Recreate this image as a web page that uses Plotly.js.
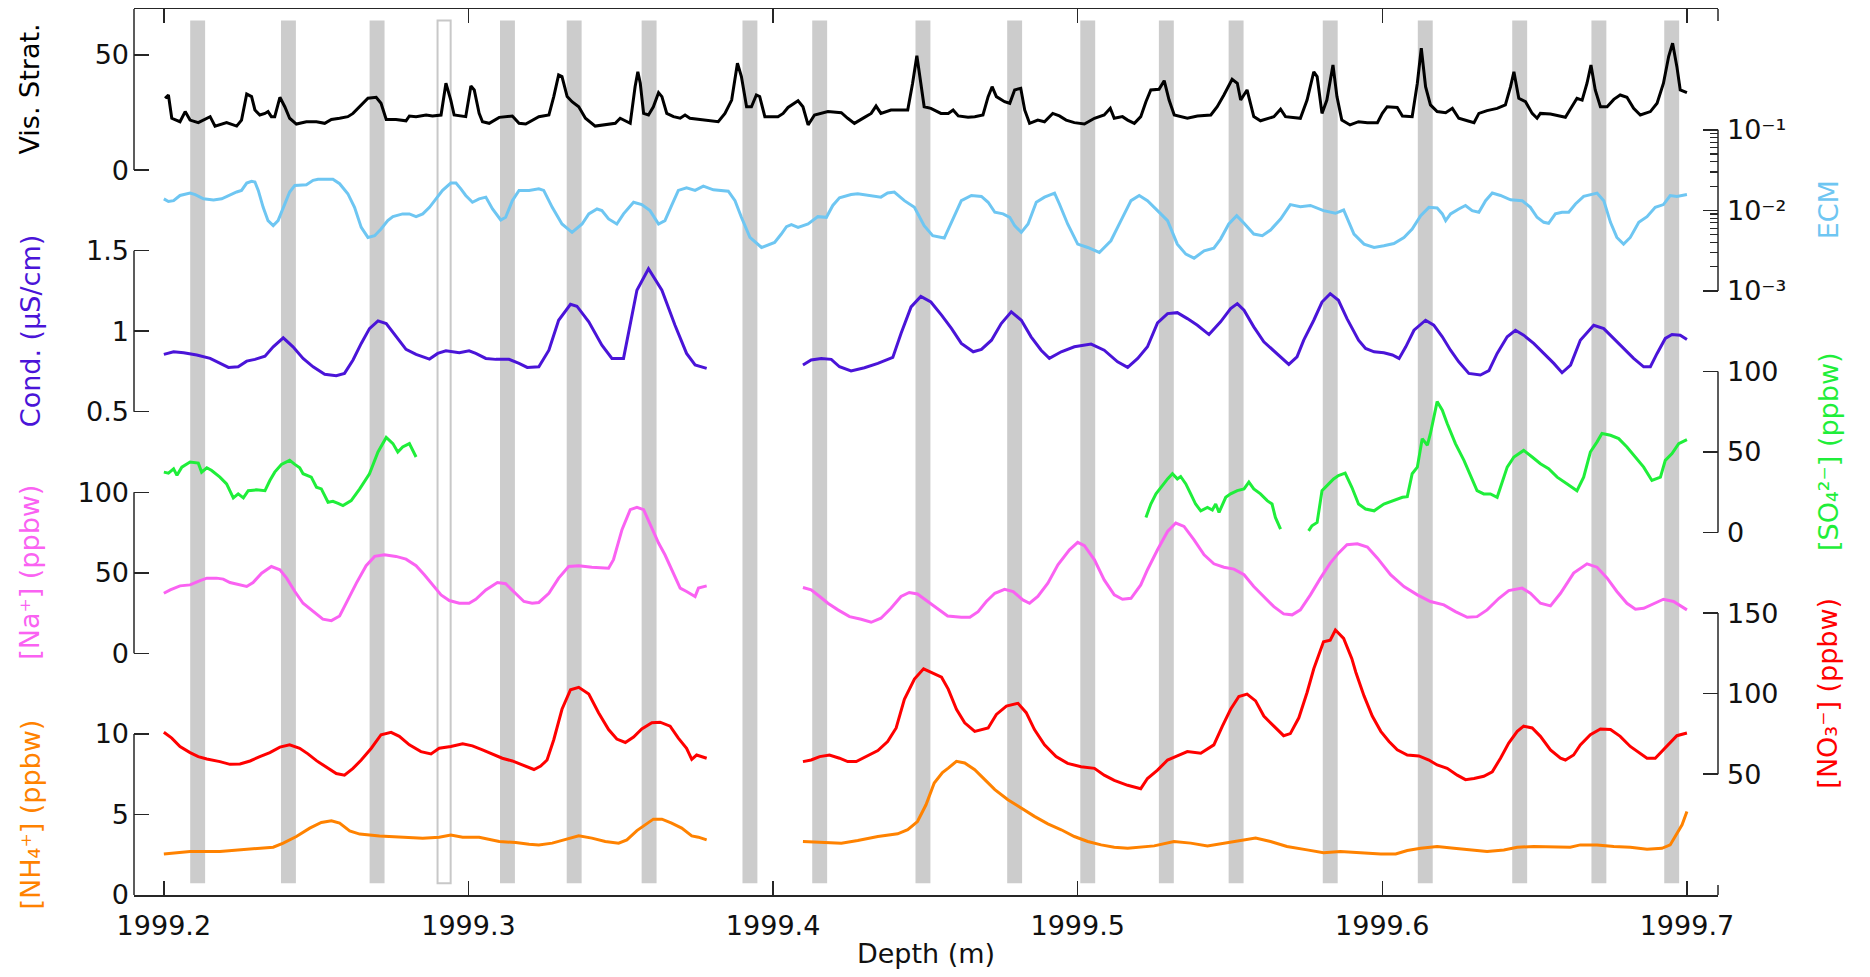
<!DOCTYPE html>
<html>
<head>
<meta charset="utf-8">
<script src="https://cdn.plot.ly/plotly-3.0.1.min.js"></script>
<style>
html,body{margin:0;padding:0;background:#fff;}
#chart{width:1870px;height:977px;}
</style>
</head>
<body>
<div id="chart"></div>
<script>
// ---------------- DATA (depth in m, value in axis units) ----------------
const depthTicks = [1999.2, 1999.3, 1999.4, 1999.5, 1999.6, 1999.7];

// annual-layer markers (band centres) and the single open (uncertain) band
const bandCenters = [1999.2111,1999.2409,1999.2700,1999.3128,1999.3347,1999.3593,1999.3924,1999.4153,1999.4492,1999.4793,1999.5033,1999.5291,1999.5520,1999.5829,1999.6141,1999.6451,1999.6711,1999.6950];
const openBandCenters = [1999.2920];

const visStrat = [[1999.2004,31.2],[1999.2015,32.6],[1999.2026,22.5],[1999.2053,21.0],[1999.2070,25.4],[1999.2086,21.7],[1999.2113,20.6],[1999.2152,23.2],[1999.2168,19.1],[1999.2206,20.6],[1999.2239,19.1],[1999.2255,21.7],[1999.2272,33.0],[1999.2288,31.9],[1999.2299,26.1],[1999.2315,23.9],[1999.2332,24.6],[1999.2342,25.4],[1999.2353,23.2],[1999.2364,23.2],[1999.2381,31.6],[1999.2397,27.5],[1999.2413,22.5],[1999.2435,20.0],[1999.2468,21.0],[1999.2501,21.0],[1999.2528,20.3],[1999.2550,22.0],[1999.2577,22.5],[1999.2604,23.2],[1999.2621,24.6],[1999.2642,27.5],[1999.2670,31.2],[1999.2697,31.6],[1999.2713,29.0],[1999.2730,22.0],[1999.2762,22.0],[1999.2795,21.4],[1999.2806,23.5],[1999.2828,23.2],[1999.2861,23.9],[1999.2882,23.5],[1999.2910,23.9],[1999.2926,37.7],[1999.2942,30.4],[1999.2953,23.9],[1999.2981,23.2],[1999.2991,23.2],[1999.3008,36.5],[1999.3019,34.8],[1999.3035,24.6],[1999.3046,21.0],[1999.3068,20.3],[1999.3101,22.9],[1999.3144,23.5],[1999.3166,20.3],[1999.3188,20.0],[1999.3231,23.2],
[1999.3264,23.9],[1999.3280,31.9],[1999.3296,41.3],[1999.3307,40.6],[1999.3324,31.9],[1999.3340,29.7],[1999.3362,27.5],[1999.3384,22.5],[1999.3416,19.1],[1999.3449,19.6],[1999.3482,20.3],[1999.3498,22.5],[1999.3509,21.7],[1999.3531,20.3],[1999.3547,36.2],[1999.3556,42.7],[1999.3564,37.7],[1999.3575,24.6],[1999.3591,23.9],[1999.3607,27.5],[1999.3624,33.6],[1999.3635,31.9],[1999.3651,24.6],[1999.3673,23.2],[1999.3695,22.5],[1999.3711,23.9],[1999.3727,22.5],[1999.3776,21.7],[1999.3820,21.0],[1999.3842,24.6],[1999.3864,30.4],[1999.3883,46.4],[1999.3896,40.6],[1999.3913,27.5],[1999.3929,27.5],[1999.3945,32.6],[1999.3956,31.9],[1999.3973,23.2],[1999.4016,23.2],[1999.4033,24.6],[1999.4049,27.2],[1999.4082,30.1],[1999.4098,27.5],[1999.4115,19.6],[1999.4136,23.9],[1999.4180,25.4],[1999.4224,24.9],[1999.4245,22.5],[1999.4267,20.3],[1999.4300,22.9],[1999.4322,24.6],[1999.4338,27.8],[1999.4354,24.6],[1999.4387,26.1],[1999.4420,26.1],[1999.4442,26.1],[1999.4458,37.7],[1999.4472,49.6],[1999.4485,37.7],[1999.4496,27.5],[1999.4518,26.8],[1999.4551,24.6],
[1999.4575,24.6],[1999.4591,26.1],[1999.4608,23.5],[1999.4640,22.9],[1999.4662,23.2],[1999.4689,23.9],[1999.4706,31.9],[1999.4719,36.2],[1999.4733,31.9],[1999.4760,29.7],[1999.4777,29.0],[1999.4793,34.8],[1999.4813,35.5],[1999.4826,26.1],[1999.4842,20.3],[1999.4869,21.7],[1999.4891,21.0],[1999.4918,24.6],[1999.4940,23.5],[1999.4962,21.7],[1999.4989,20.6],[1999.5022,20.0],[1999.5055,22.5],[1999.5087,23.9],[1999.5107,26.8],[1999.5120,22.5],[1999.5147,23.2],[1999.5164,21.7],[1999.5186,20.3],[1999.5207,23.2],[1999.5224,29.7],[1999.5240,34.8],[1999.5267,35.1],[1999.5284,38.8],[1999.5300,30.4],[1999.5317,23.9],[1999.5360,22.5],[1999.5393,23.5],[1999.5437,23.9],[1999.5458,27.5],[1999.5480,32.6],[1999.5507,39.4],[1999.5524,37.7],[1999.5535,30.4],[1999.5556,34.8],[1999.5578,23.2],[1999.5600,21.4],[1999.5627,22.5],[1999.5644,23.2],[1999.5666,26.4],[1999.5682,23.2],[1999.5731,22.5],[1999.5753,30.4],[1999.5775,42.7],[1999.5786,40.6],[1999.5802,24.6],[1999.5818,30.4],[1999.5838,45.6],[1999.5851,31.9],[1999.5867,21.7],[1999.5894,19.6],[1999.5922,21.0],
[1999.5951,20.6],[1999.5984,20.6],[1999.6000,24.6],[1999.6016,27.5],[1999.6049,27.2],[1999.6066,23.5],[1999.6098,23.2],[1999.6115,37.7],[1999.6128,52.9],[1999.6142,36.2],[1999.6158,28.3],[1999.6180,25.4],[1999.6208,24.9],[1999.6230,26.8],[1999.6251,22.5],[1999.6279,21.4],[1999.6301,20.6],[1999.6317,24.6],[1999.6344,25.8],[1999.6377,26.8],[1999.6404,28.3],[1999.6421,36.2],[1999.6432,42.7],[1999.6448,31.2],[1999.6470,29.7],[1999.6492,24.6],[1999.6508,22.5],[1999.6519,24.6],[1999.6552,24.3],[1999.6601,22.9],[1999.6623,27.5],[1999.6639,31.2],[1999.6656,30.4],[1999.6672,37.7],[1999.6685,45.6],[1999.6699,34.8],[1999.6716,27.5],[1999.6738,27.5],[1999.6760,30.7],[1999.6781,32.6],[1999.6803,31.6],[1999.6825,26.8],[1999.6847,23.9],[1999.6880,25.4],[1999.6902,29.0],[1999.6923,37.7],[1999.6940,49.3],[1999.6953,55.1],[1999.6967,44.9],[1999.6978,34.8],[1999.7000,33.6]];

const ecm = [[1999.2000,1.39e-2],[1999.2015,1.29e-2],[1999.2032,1.32e-2],[1999.2053,1.53e-2],[1999.2086,1.64e-2],[1999.2103,1.57e-2],[1999.2130,1.39e-2],[1999.2163,1.35e-2],[1999.2190,1.39e-2],[1999.2212,1.53e-2],[1999.2239,1.69e-2],[1999.2255,1.77e-2],[1999.2272,2.18e-2],[1999.2288,2.29e-2],[1999.2299,2.25e-2],[1999.2310,1.77e-2],[1999.2326,1.09e-2],[1999.2342,7.45e-3],[1999.2359,6.46e-3],[1999.2375,7.45e-3],[1999.2392,1.09e-2],[1999.2413,1.69e-2],[1999.2430,2.04e-2],[1999.2446,2.04e-2],[1999.2468,2.08e-2],[1999.2490,2.36e-2],[1999.2506,2.43e-2],[1999.2555,2.43e-2],[1999.2577,2.14e-2],[1999.2604,1.61e-2],[1999.2626,1.09e-2],[1999.2648,6.15e-3],[1999.2670,4.61e-3],[1999.2692,4.84e-3],[1999.2713,5.86e-3],[1999.2735,7.45e-3],[1999.2752,8.36e-3],[1999.2784,9.04e-3],[1999.2806,9.04e-3],[1999.2828,8.36e-3],[1999.2850,9.04e-3],[1999.2872,1.09e-2],[1999.2893,1.39e-2],[1999.2915,1.77e-2],[1999.2942,2.18e-2],[1999.2959,2.18e-2],[1999.2975,1.85e-2],[1999.2991,1.53e-2],[1999.3013,1.26e-2],[1999.3035,1.39e-2],[1999.3057,1.46e-2],[1999.3079,1.04e-2],[1999.3106,7.59e-3],[1999.3122,8.2e-3],[1999.3144,1.32e-2],[1999.3166,1.77e-2],[1999.3199,1.77e-2],[1999.3231,1.85e-2],
[1999.3247,1.77e-2],[1999.3275,1.09e-2],[1999.3307,6.78e-3],[1999.3340,5.33e-3],[1999.3373,6.78e-3],[1999.3395,9.04e-3],[1999.3422,1.04e-2],[1999.3438,9.93e-3],[1999.3460,7.82e-3],[1999.3487,6.78e-3],[1999.3509,9.04e-3],[1999.3542,1.26e-2],[1999.3569,1.18e-2],[1999.3596,9.93e-3],[1999.3624,6.78e-3],[1999.3645,7.45e-3],[1999.3667,1.15e-2],[1999.3689,1.77e-2],[1999.3716,1.91e-2],[1999.3744,1.77e-2],[1999.3771,2.0e-2],[1999.3804,1.8e-2],[1999.3853,1.73e-2],[1999.3875,1.32e-2],[1999.3896,8.2e-3],[1999.3924,4.61e-3],[1999.3962,3.46e-3],[1999.4005,4.0e-3],[1999.4027,5.08e-3],[1999.4044,6.27e-3],[1999.4060,6.64e-3],[1999.4082,6.15e-3],[1999.4115,6.78e-3],[1999.4147,8.36e-3],[1999.4175,8.2e-3],[1999.4196,1.15e-2],[1999.4218,1.43e-2],[1999.4256,1.57e-2],[1999.4278,1.61e-2],[1999.4322,1.53e-2],[1999.4354,1.46e-2],[1999.4376,1.64e-2],[1999.4398,1.69e-2],[1999.4431,1.32e-2],[1999.4464,1.09e-2],[1999.4496,6.46e-3],[1999.4524,4.84e-3],[1999.4562,4.53e-3],
[1999.4597,9.04e-3],[1999.4618,1.32e-2],[1999.4651,1.53e-2],[1999.4684,1.49e-2],[1999.4706,1.26e-2],[1999.4728,9.48e-3],[1999.4755,9.04e-3],[1999.4777,8.2e-3],[1999.4793,6.46e-3],[1999.4815,5.33e-3],[1999.4837,6.78e-3],[1999.4864,1.26e-2],[1999.4891,1.46e-2],[1999.4924,1.64e-2],[1999.4940,1.2e-2],[1999.4967,6.78e-3],[1999.5000,3.81e-3],[1999.5033,3.46e-3],[1999.5071,3.0e-3],[1999.5109,4.19e-3],[1999.5142,7.45e-3],[1999.5175,1.32e-2],[1999.5202,1.53e-2],[1999.5229,1.32e-2],[1999.5262,9.93e-3],[1999.5295,7.45e-3],[1999.5327,3.81e-3],[1999.5355,2.86e-3],[1999.5382,2.55e-3],[1999.5415,3.14e-3],[1999.5447,3.4e-3],[1999.5469,4.4e-3],[1999.5496,6.78e-3],[1999.5522,8.61e-3],[1999.5546,6.9e-3],[1999.5578,5.08e-3],[1999.5606,4.84e-3],[1999.5633,5.7e-3],[1999.5666,7.82e-3],[1999.5698,1.18e-2],[1999.5731,1.11e-2],[1999.5764,1.15e-2],[1999.5807,9.93e-3],[1999.5846,9.2e-3],[1999.5873,1.01e-2],
[1999.5907,5.08e-3],[1999.5940,3.81e-3],[1999.5973,3.46e-3],[1999.6005,3.63e-3],[1999.6038,3.88e-3],[1999.6071,4.61e-3],[1999.6098,5.86e-3],[1999.6126,8.61e-3],[1999.6153,1.09e-2],[1999.6180,1.07e-2],[1999.6197,9.04e-3],[1999.6208,7.45e-3],[1999.6224,9.04e-3],[1999.6251,1.04e-2],[1999.6273,1.15e-2],[1999.6295,9.93e-3],[1999.6317,9.48e-3],[1999.6339,1.32e-2],[1999.6361,1.64e-2],[1999.6388,1.53e-2],[1999.6421,1.35e-2],[1999.6459,1.32e-2],[1999.6486,1.09e-2],[1999.6508,8.2e-3],[1999.6530,7.1e-3],[1999.6546,6.9e-3],[1999.6568,9.04e-3],[1999.6590,9.48e-3],[1999.6612,9.48e-3],[1999.6634,1.2e-2],[1999.6661,1.49e-2],[1999.6705,1.64e-2],[1999.6727,1.32e-2],[1999.6749,7.1e-3],[1999.6770,4.61e-3],[1999.6792,3.81e-3],[1999.6814,4.61e-3],[1999.6842,7.1e-3],[1999.6869,8.36e-3],[1999.6896,1.09e-2],[1999.6923,1.18e-2],[1999.6945,1.53e-2],[1999.6967,1.49e-2],[1999.7000,1.57e-2]];

const conductivity = [[1999.2000,0.856],[1999.2032,0.872],[1999.2065,0.866],[1999.2108,0.852],[1999.2152,0.831],[1999.2184,0.800],[1999.2212,0.775],[1999.2244,0.779],[1999.2272,0.814],[1999.2299,0.825],[1999.2332,0.845],[1999.2359,0.903],[1999.2392,0.959],[1999.2424,0.903],[1999.2457,0.831],[1999.2490,0.779],[1999.2528,0.732],[1999.2566,0.724],[1999.2593,0.738],[1999.2621,0.821],[1999.2648,0.924],[1999.2675,1.016],[1999.2703,1.064],[1999.2730,1.047],[1999.2762,0.965],[1999.2795,0.887],[1999.2828,0.856],[1999.2872,0.827],[1999.2899,0.862],[1999.2926,0.878],[1999.2970,0.866],[1999.3002,0.878],[1999.3024,0.862],[1999.3057,0.831],[1999.3090,0.825],[1999.3133,0.825],[1999.3166,0.800],[1999.3193,0.775],[1999.3231,0.779],
[1999.3264,0.882],[1999.3296,1.068],[1999.3335,1.167],[1999.3356,1.155],[1999.3395,1.058],[1999.3438,0.913],[1999.3471,0.831],[1999.3509,0.831],[1999.3525,0.986],[1999.3553,1.254],[1999.3591,1.388],[1999.3635,1.254],[1999.3678,1.037],[1999.3716,0.862],[1999.3744,0.790],[1999.3782,0.769],[1999.3900,null],[1999.4098,0.790],[1999.4125,0.821],[1999.4158,0.831],[1999.4191,0.825],[1999.4218,0.779],[1999.4256,0.753],[1999.4300,0.773],[1999.4344,0.800],[1999.4393,0.837],[1999.4420,0.986],[1999.4453,1.151],[1999.4485,1.216],[1999.4518,1.181],[1999.4553,1.100],
[1999.4586,1.016],[1999.4618,0.924],[1999.4657,0.872],[1999.4684,0.887],[1999.4717,0.944],[1999.4749,1.047],[1999.4782,1.120],[1999.4815,1.068],[1999.4847,0.965],[1999.4880,0.882],[1999.4907,0.831],[1999.4946,0.872],[1999.4989,0.903],[1999.5044,0.920],[1999.5087,0.882],[1999.5131,0.810],[1999.5164,0.775],[1999.5197,0.831],[1999.5229,0.903],[1999.5262,1.052],[1999.5295,1.109],[1999.5327,1.115],[1999.5360,1.078],[1999.5393,1.037],[1999.5431,0.979],[1999.5469,1.058],[1999.5502,1.140],[1999.5524,1.171],[1999.5546,1.130],[1999.5578,1.027],[1999.5611,0.934],[1999.5655,0.858],[1999.5693,0.794],[1999.5720,0.841],[1999.5742,0.944],[1999.5775,1.068],[1999.5802,1.181],[1999.5829,1.233],[1999.5856,1.192],[1999.5884,1.078],[1999.5922,0.944],
[1999.5945,0.893],[1999.5973,0.872],[1999.6005,0.866],[1999.6033,0.852],[1999.6055,0.831],[1999.6077,0.903],[1999.6104,1.006],[1999.6142,1.068],[1999.6169,1.037],[1999.6197,0.965],[1999.6224,0.882],[1999.6251,0.810],[1999.6284,0.738],[1999.6322,0.728],[1999.6350,0.755],[1999.6377,0.862],[1999.6410,0.965],[1999.6437,1.006],[1999.6464,0.975],[1999.6497,0.924],[1999.6530,0.862],[1999.6563,0.800],[1999.6590,0.742],[1999.6618,0.790],[1999.6650,0.944],[1999.6694,1.037],[1999.6727,1.016],[1999.6760,0.955],[1999.6792,0.893],[1999.6825,0.831],[1999.6858,0.779],[1999.6880,0.779],[1999.6902,0.862],[1999.6929,0.955],[1999.6951,0.979],[1999.6978,0.975],[1999.7000,0.948]];

const sulfate = [[1999.2000,37.5],[1999.2015,36.9],[1999.2032,39.5],[1999.2043,35.5],[1999.2059,40.6],[1999.2086,43.8],[1999.2113,43.1],[1999.2124,37.5],[1999.2141,40.2],[1999.2157,38.5],[1999.2184,34.4],[1999.2206,30.2],[1999.2228,21.5],[1999.2244,24.0],[1999.2261,21.5],[1999.2277,26.0],[1999.2304,26.5],[1999.2332,26.0],[1999.2348,32.3],[1999.2364,37.5],[1999.2386,42.3],[1999.2413,44.8],[1999.2430,42.3],[1999.2446,40.2],[1999.2457,36.5],[1999.2484,34.4],[1999.2501,28.1],[1999.2517,27.1],[1999.2539,18.8],[1999.2555,19.4],[1999.2572,18.1],[1999.2588,16.7],[1999.2615,19.8],[1999.2643,27.1],[1999.2675,36.5],[1999.2692,44.8],[1999.2703,50.0],[1999.2730,59.0],[1999.2752,55.2],[1999.2768,50.0],[1999.2784,53.1],[1999.2806,55.2],[1999.2817,51.0],[1999.2828,46.9],
[1999.4000,null],
[1999.5224,9.4],[1999.5240,17.7],[1999.5257,24.0],[1999.5273,28.1],[1999.5295,33.3],[1999.5311,36.5],[1999.5327,33.3],[1999.5338,34.8],[1999.5355,30.2],[1999.5371,24.0],[1999.5387,17.7],[1999.5404,13.5],[1999.5426,15.6],[1999.5442,14.0],[1999.5453,17.7],[1999.5464,12.5],[1999.5475,17.7],[1999.5486,21.9],[1999.5502,24.0],[1999.5524,26.0],[1999.5546,27.1],[1999.5562,31.3],[1999.5578,27.1],[1999.5600,24.0],[1999.5622,19.8],[1999.5638,17.7],[1999.5649,9.4],[1999.5666,2.1],
[1999.5710,null],
[1999.5758,1.0],[1999.5769,4.2],[1999.5786,6.3],[1999.5802,26.0],[1999.5824,30.2],[1999.5840,33.3],[1999.5856,35.4],[1999.5878,36.9],[1999.5900,28.1],[1999.5922,17.7],[1999.5945,14.6],[1999.5973,13.5],[1999.6005,17.7],[1999.6038,20.2],[1999.6066,21.9],[1999.6082,22.3],[1999.6098,36.5],[1999.6115,40.6],[1999.6131,58.3],[1999.6148,54.2],[1999.6158,61.5],[1999.6180,81.3],[1999.6197,76.0],[1999.6213,67.7],[1999.6240,55.2],[1999.6268,44.8],[1999.6295,32.3],[1999.6311,26.0],[1999.6333,24.0],[1999.6355,24.0],[1999.6377,21.9],[1999.6410,40.6],[1999.6432,46.9],[1999.6464,51.0],[1999.6492,46.9],[1999.6519,42.7],[1999.6546,39.6],[1999.6574,34.4],[1999.6607,30.2],[1999.6639,26.0],[1999.6661,34.4],[1999.6683,50.0],[1999.6705,56.3],[1999.6721,61.5],[1999.6749,60.4],[1999.6776,58.3],[1999.6803,53.1],[1999.6831,46.9],[1999.6858,40.6],[1999.6885,32.3],[1999.6913,34.4],[1999.6929,44.8],[1999.6951,49.0],[1999.6973,55.2],[1999.7000,57.7]];

const sodium = [[1999.2000,37.3],[1999.2021,39.4],[1999.2053,41.9],[1999.2086,42.5],[1999.2119,45.2],[1999.2141,46.7],[1999.2173,46.7],[1999.2195,46.1],[1999.2217,44.0],[1999.2250,42.5],[1999.2272,41.5],[1999.2293,44.0],[1999.2321,49.8],[1999.2353,53.9],[1999.2381,51.9],[1999.2403,46.7],[1999.2430,38.4],[1999.2457,31.1],[1999.2490,25.9],[1999.2522,21.2],[1999.2550,20.3],[1999.2577,23.2],[1999.2604,33.2],[1999.2632,43.6],[1999.2664,54.4],[1999.2692,60.2],[1999.2724,61.2],[1999.2762,60.2],[1999.2795,58.5],[1999.2828,54.4],[1999.2855,48.8],[1999.2882,42.5],[1999.2910,36.3],[1999.2937,32.8],[1999.2970,31.1],[1999.3002,31.1],[1999.3024,33.6],[1999.3057,39.4],[1999.3095,44.0],[1999.3122,43.2],[1999.3155,37.3],[1999.3182,32.2],[1999.3209,31.1],[1999.3231,31.6],
[1999.3264,37.3],[1999.3296,46.7],[1999.3329,53.9],[1999.3362,54.4],[1999.3405,53.5],[1999.3460,52.9],[1999.3476,58.1],[1999.3504,76.8],[1999.3531,89.2],[1999.3553,90.7],[1999.3575,89.2],[1999.3596,79.9],[1999.3624,68.5],[1999.3645,61.2],[1999.3673,49.8],[1999.3695,40.5],[1999.3716,38.4],[1999.3738,36.3],[1999.3744,35.3],[1999.3755,40.5],[1999.3782,41.9],[1999.3900,null],[1999.4098,40.9],[1999.4125,39.4],[1999.4153,35.3],[1999.4180,31.1],[1999.4213,27.0],[1999.4251,22.8],[1999.4289,21.2],[1999.4322,19.3],[1999.4354,21.8],[1999.4387,28.0],[1999.4420,35.3],[1999.4447,37.8],[1999.4474,36.9],[1999.4507,32.2],[1999.4540,27.4],[1999.4573,23.2],
[1999.4618,22.4],[1999.4646,22.4],[1999.4673,25.9],[1999.4700,32.2],[1999.4728,37.3],[1999.4760,39.8],[1999.4788,38.4],[1999.4820,33.2],[1999.4842,31.1],[1999.4869,35.3],[1999.4902,43.6],[1999.4935,55.0],[1999.4973,64.3],[1999.5000,68.9],[1999.5022,66.8],[1999.5055,58.1],[1999.5087,45.6],[1999.5120,36.3],[1999.5147,33.6],[1999.5175,34.2],[1999.5207,42.5],[1999.5229,51.9],[1999.5262,64.3],[1999.5295,75.7],[1999.5322,80.9],[1999.5349,78.8],[1999.5382,70.5],[1999.5415,61.2],[1999.5447,55.6],[1999.5480,53.5],[1999.5513,52.3],[1999.5546,48.8],[1999.5578,41.5],[1999.5611,35.3],[1999.5644,29.0],[1999.5676,24.5],[1999.5704,23.9],[1999.5731,27.0],[1999.5764,36.3],[1999.5797,46.7],[1999.5829,56.0],[1999.5856,62.2],[1999.5884,67.4],[1999.5918,68.0],
[1999.5951,66.0],[1999.5984,59.1],[1999.6027,48.8],[1999.6071,41.5],[1999.6115,36.3],[1999.6158,32.2],[1999.6202,30.1],[1999.6240,25.9],[1999.6279,22.4],[1999.6311,22.8],[1999.6344,27.0],[1999.6383,34.2],[1999.6415,39.0],[1999.6459,40.5],[1999.6486,37.3],[1999.6519,31.1],[1999.6552,29.5],[1999.6585,37.3],[1999.6628,49.8],[1999.6672,55.6],[1999.6705,53.5],[1999.6738,46.7],[1999.6770,38.4],[1999.6803,31.1],[1999.6831,27.4],[1999.6858,28.0],[1999.6891,30.7],[1999.6923,33.6],[1999.6956,32.2],[1999.7000,27.0]];

const nitrate = [[1999.2000,76.0],[1999.2026,72.4],[1999.2053,67.2],[1999.2086,63.4],[1999.2113,60.9],[1999.2141,59.4],[1999.2184,57.8],[1999.2217,56.1],[1999.2250,56.3],[1999.2283,58.2],[1999.2315,60.9],[1999.2348,63.4],[1999.2381,66.8],[1999.2413,68.2],[1999.2446,66.1],[1999.2473,62.6],[1999.2501,58.4],[1999.2533,54.6],[1999.2566,50.4],[1999.2593,49.4],[1999.2621,53.6],[1999.2648,58.8],[1999.2681,66.1],[1999.2713,74.5],[1999.2746,76.0],[1999.2773,73.5],[1999.2806,68.2],[1999.2844,64.0],[1999.2877,62.6],[1999.2904,66.1],[1999.2942,67.2],[1999.2981,68.9],[1999.3013,67.6],[1999.3046,65.1],[1999.3079,62.6],[1999.3111,59.9],[1999.3144,58.2],[1999.3177,55.7],[1999.3215,52.9],[1999.3237,55.0],
[1999.3258,58.8],[1999.3280,71.4],[1999.3307,90.3],[1999.3335,102.4],[1999.3362,103.9],[1999.3395,99.7],[1999.3427,88.2],[1999.3460,77.7],[1999.3487,71.8],[1999.3515,69.7],[1999.3542,73.1],[1999.3569,78.1],[1999.3602,81.9],[1999.3629,82.3],[1999.3662,79.8],[1999.3689,72.4],[1999.3716,66.1],[1999.3733,59.2],[1999.3749,61.9],[1999.3782,59.9],[1999.3900,null],[1999.4098,57.8],[1999.4125,58.8],[1999.4153,60.9],[1999.4185,61.9],[1999.4218,59.9],[1999.4245,57.8],[1999.4273,57.8],[1999.4305,60.9],[1999.4344,64.7],[1999.4376,70.3],[1999.4404,78.7],[1999.4431,96.5],[1999.4464,109.1],[1999.4494,115.4],[1999.4529,112.3],
[1999.4553,110.2],[1999.4575,102.8],[1999.4602,90.3],[1999.4629,81.9],[1999.4662,76.6],[1999.4706,78.7],[1999.4733,87.1],[1999.4766,92.3],[1999.4804,94.0],[1999.4831,88.2],[1999.4858,77.7],[1999.4891,68.2],[1999.4929,60.9],[1999.4967,56.7],[1999.5011,54.6],[1999.5055,53.6],[1999.5087,49.4],[1999.5120,46.2],[1999.5164,43.1],[1999.5207,41.0],[1999.5229,47.3],[1999.5262,52.5],[1999.5295,58.8],[1999.5327,61.3],[1999.5360,64.0],[1999.5404,63.0],[1999.5447,68.2],[1999.5475,79.8],[1999.5502,90.3],[1999.5529,98.2],[1999.5556,99.7],[1999.5584,95.5],[1999.5611,86.1],[1999.5644,79.8],[1999.5676,73.9],[1999.5698,75.2],[1999.5726,85.0],[1999.5753,100.7],[1999.5775,115.4],[1999.5807,132.2],[1999.5829,133.2],[1999.5846,139.5],[1999.5873,134.3],[1999.5900,121.7],
[1999.5913,113.3],[1999.5940,98.6],[1999.5967,86.1],[1999.5995,76.6],[1999.6022,70.3],[1999.6049,65.1],[1999.6082,61.9],[1999.6120,61.3],[1999.6153,58.8],[1999.6180,55.7],[1999.6213,53.6],[1999.6246,49.4],[1999.6273,46.6],[1999.6301,47.3],[1999.6333,48.7],[1999.6361,51.5],[1999.6388,59.9],[1999.6415,69.3],[1999.6443,76.6],[1999.6464,79.8],[1999.6492,78.7],[1999.6519,73.5],[1999.6552,65.1],[1999.6585,59.9],[1999.6601,58.8],[1999.6628,61.9],[1999.6650,68.2],[1999.6683,74.5],[1999.6716,78.1],[1999.6749,77.7],[1999.6781,73.5],[1999.6814,67.2],[1999.6847,63.0],[1999.6869,59.9],[1999.6896,59.9],[1999.6923,65.1],[1999.6945,69.3],[1999.6967,73.9],[1999.7000,75.6]];

const ammonium = [[1999.2000,2.55],[1999.2086,2.70],[1999.2184,2.70],[1999.2272,2.84],[1999.2359,2.97],[1999.2392,3.22],[1999.2435,3.63],[1999.2479,4.15],[1999.2517,4.50],[1999.2550,4.61],[1999.2577,4.46],[1999.2610,3.98],[1999.2643,3.78],[1999.2708,3.67],[1999.2795,3.59],[1999.2850,3.53],[1999.2904,3.59],[1999.2942,3.73],[1999.2981,3.59],[1999.3035,3.59],[1999.3101,3.32],[1999.3155,3.26],[1999.3199,3.15],
[1999.3231,3.11],[1999.3275,3.22],[1999.3318,3.46],[1999.3362,3.67],[1999.3405,3.53],[1999.3449,3.32],[1999.3493,3.22],[1999.3520,3.42],[1999.3553,4.00],[1999.3580,4.36],[1999.3607,4.71],[1999.3635,4.71],[1999.3667,4.46],[1999.3700,4.15],[1999.3733,3.67],[1999.3755,3.59],[1999.3782,3.42],[1999.3900,null],[1999.4098,3.32],[1999.4158,3.26],[1999.4224,3.22],[1999.4278,3.38],[1999.4344,3.63],[1999.4409,3.80],[1999.4442,4.05],[1999.4474,4.56],[1999.4502,5.60],[1999.4529,6.95],[1999.4556,7.60],
[1999.4575,7.88],[1999.4602,8.30],[1999.4629,8.20],[1999.4662,7.78],[1999.4695,7.16],[1999.4728,6.54],[1999.4771,5.91],[1999.4815,5.39],[1999.4858,4.88],[1999.4902,4.42],[1999.4946,4.05],[1999.4989,3.63],[1999.5033,3.32],[1999.5077,3.11],[1999.5120,2.97],[1999.5164,2.90],[1999.5207,2.97],[1999.5251,3.05],[1999.5316,3.32],[1999.5371,3.22],[1999.5426,3.05],[1999.5480,3.22],[1999.5535,3.42],[1999.5584,3.53],[1999.5633,3.32],[1999.5687,3.01],[1999.5753,2.80],[1999.5807,2.63],[1999.5862,2.70],[1999.5927,2.63],
[1999.5995,2.55],[1999.6044,2.55],[1999.6082,2.76],[1999.6126,2.90],[1999.6180,3.01],[1999.6235,2.90],[1999.6301,2.76],[1999.6344,2.70],[1999.6399,2.80],[1999.6443,2.97],[1999.6497,3.01],[1999.6563,2.97],[1999.6617,2.97],[1999.6650,3.11],[1999.6705,3.11],[1999.6760,3.01],[1999.6814,2.97],[1999.6869,2.84],[1999.6918,2.90],[1999.6945,3.11],[1999.6967,3.84],[1999.6984,4.36],[1999.7000,5.19]];

// ---------------- LAYOUT / STYLE ----------------
const FONT = '"DejaVu Sans", "Liberation Sans", Arial, sans-serif';
const FS = 27;
const AXIS_COLOR = '#262626';
const UNITS = 11;                       // total stacked height in "panel units"
const depthRange = [1999.1902, 1999.7102];
const bandHalfWidth = 0.00245;
const bandY = [0.0132, 0.9871];

// each stacked axis: value span [v0,v1] shown between unit heights [u0,u1]
const panels = {
  nh4:  {id:'y',  side:'left',  v:[0,10],       u:[0,2],     ticks:[0,5,10],         color:'#ff8200', title:'[NH₄⁺] (ppbw)'},
  na:   {id:'y2', side:'left',  v:[0,100],      u:[3,5],     ticks:[0,50,100],       color:'#fa62f2', title:'[Na⁺] (ppbw)'},
  cond: {id:'y3', side:'left',  v:[0.5,1.5],    u:[6,8],     ticks:[0.5,1,1.5],      color:'#4a14d8', title:'Cond. (μS/cm)'},
  vis:  {id:'y4', side:'left',  v:[0,50],       u:[9,10.43], ticks:[0,50],           color:'#000000', title:'Vis. Strat.', toTop:true},
  no3:  {id:'y5', side:'right', v:[50,150],     u:[1.5,3.5], ticks:[50,100,150],     color:'#ff0000', title:'[NO₃⁻] (ppbw)'},
  so4:  {id:'y6', side:'right', v:[0,100],      u:[4.5,6.5], ticks:[0,50,100],       color:'#1fee3a', title:'[SO₄²⁻] (ppbw)'},
  ecm:  {id:'y7', side:'right', v:[1e-3,1e-1],  u:[7.5,9.5], ticks:[1e-3,1e-2,1e-1], color:'#6ec6f2', title:'ECM', log:true,
         tickText:['10⁻³','10⁻²','10⁻¹']}
};

function rangeOf(p) {
  const a = p.log ? Math.log10(p.v[0]) : p.v[0];
  const b = p.log ? Math.log10(p.v[1]) : p.v[1];
  const per = (b - a) / (p.u[1] - p.u[0]);
  const lo = a - p.u[0] * per;
  return [lo, lo + UNITS * per];
}

const layout = {
  width: 1870, height: 977,
  margin: {l: 134, r: 152, t: 9, b: 82},
  paper_bgcolor: '#ffffff', plot_bgcolor: '#ffffff',
  showlegend: false,
  font: {family: FONT, size: FS, color: '#111'},
  xaxis: {
    range: depthRange, tickmode: 'array', tickvals: depthTicks, tickformat: '.1f',
    ticks: 'inside', ticklen: 14, tickwidth: 1.5, tickcolor: AXIS_COLOR,
    showline: true, linecolor: AXIS_COLOR, linewidth: 1.5, mirror: 'ticks',
    showgrid: false, zeroline: false,
    tickfont: {family: FONT, size: FS, color: '#111'},
    ticklabelstandoff: 6,
    title: {text: 'Depth (m)', font: {family: FONT, size: FS, color: '#111'}, standoff: 4}
  },
  shapes: [], annotations: []
};

Object.values(panels).forEach(p => {
  const key = p.id === 'y' ? 'yaxis' : 'yaxis' + p.id.slice(1);
  const ax = {
    type: p.log ? 'log' : 'linear',
    range: rangeOf(p), side: p.side, anchor: 'x',
    tickmode: 'array', tickvals: p.ticks,
    ticks: 'inside', ticklen: 15, tickwidth: 1.5, tickcolor: AXIS_COLOR,
    showline: false, showgrid: false, zeroline: false,
    tickfont: {family: FONT, size: FS, color: '#111'},
    ticklabelstandoff: p.side === 'right' ? 8 : 4
  };
  if (p.tickText) ax.ticktext = p.tickText;
  if (p.id !== 'y') ax.overlaying = 'y';
  if (p.log) {
    const minor = [];
    [1e-3, 1e-2].forEach(d => { for (let k = 2; k <= 9; k++) minor.push(d * k); });
    ax.minor = {tickmode: 'array', tickvals: minor, ticks: 'inside', ticklen: 8, tickwidth: 1.2, tickcolor: AXIS_COLOR, showgrid: false};
  }
  layout[key] = ax;

  // axis spine only over the panel's own span (paper fractions from panel units)
  const xEdge = p.side === 'left' ? 0 : 1;
  layout.shapes.push({type: 'line', xref: 'paper', yref: 'paper', x0: xEdge, x1: xEdge,
    y0: p.u[0] / UNITS, y1: p.toTop ? 1 : p.u[1] / UNITS,
    line: {color: AXIS_COLOR, width: 1.5}, layer: 'above'});

  // axis title, centred on the spine
  const midFrac = ((p.u[0] / UNITS) + (p.toTop ? 1 : p.u[1] / UNITS)) / 2;
  layout.annotations.push({xref: 'paper', x: xEdge, xshift: p.side === 'left' ? -104 : 110,
    yref: 'paper', y: midFrac, text: p.title, textangle: -90, showarrow: false,
    xanchor: 'center', yanchor: 'middle', font: {family: FONT, size: FS, color: p.color}});
});

// short frame stubs at the right-hand corners
layout.shapes.push({type: 'line', xref: 'paper', yref: 'paper', x0: 1, x1: 1, y0: 1, y1: 0.9865, line: {color: AXIS_COLOR, width: 1.5}});
layout.shapes.push({type: 'line', xref: 'paper', yref: 'paper', x0: 1, x1: 1, y0: 0, y1: 0.0113, line: {color: AXIS_COLOR, width: 1.5}});

// annual-layer bands
bandCenters.forEach(c => layout.shapes.push({type: 'rect', xref: 'x', yref: 'paper',
  x0: c - bandHalfWidth, x1: c + bandHalfWidth, y0: bandY[0], y1: bandY[1],
  fillcolor: '#cccccc', line: {width: 0}, layer: 'below'}));
openBandCenters.forEach(c => layout.shapes.push({type: 'rect', xref: 'x', yref: 'paper',
  x0: c - bandHalfWidth + 0.0003, x1: c + bandHalfWidth - 0.0003, y0: bandY[0], y1: bandY[1],
  fillcolor: 'rgba(0,0,0,0)', line: {width: 2, color: '#c8c8c8'}, layer: 'below'}));

function trace(pairs, p) {
  return {x: pairs.map(d => d[0]), y: pairs.map(d => d[1]), type: 'scatter', mode: 'lines',
    yaxis: p.id, connectgaps: false, hoverinfo: 'skip',
    line: {color: p.color, width: 3}};
}

const data = [
  trace(ammonium, panels.nh4),
  trace(sodium, panels.na),
  trace(conductivity, panels.cond),
  trace(visStrat, panels.vis),
  trace(nitrate, panels.no3),
  trace(sulfate, panels.so4),
  trace(ecm, panels.ecm)
];

Plotly.newPlot('chart', data, layout, {staticPlot: true, displayModeBar: false});
</script>
</body>
</html>
